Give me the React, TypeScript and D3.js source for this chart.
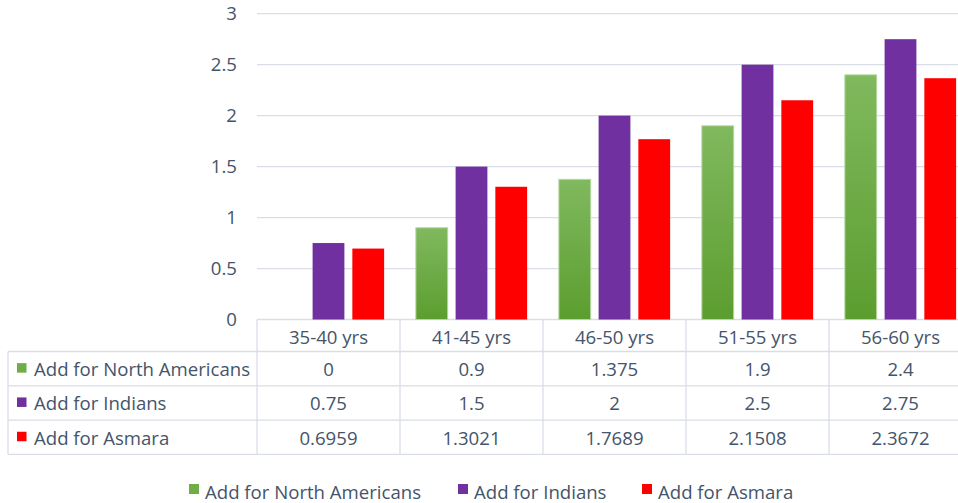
import React from 'react'
import * as d3 from 'd3'

const categories = ['35-40 yrs', '41-45 yrs', '46-50 yrs', '51-55 yrs', '56-60 yrs']
const seriesNames = ['Add for North Americans', 'Add for Indians', 'Add for Asmara']
const northAmericans = [0, 0.9, 1.375, 1.9, 2.4]
const indians = [0.75, 1.5, 2, 2.5, 2.75]
const asmara = [0.6959, 1.3021, 1.7689, 2.1508, 2.3672]
const yTicks = [0, 0.5, 1, 1.5, 2, 2.5, 3]

const W = 958
const H = 503
const TEXT = '#44546a'
const GRID = '#d9dde6'
const FONT = '"Open Sans", sans-serif'
const FS = 18.6

const series = [
  { name: seriesNames[0], values: northAmericans, fill: 'url(#greenGrad)', key: '#70ad47', stroke: '#b5d6a0' },
  { name: seriesNames[1], values: indians, fill: '#7030a0', key: '#7030a0', stroke: 'none' },
  { name: seriesNames[2], values: asmara, fill: '#ff0000', key: '#ff0000', stroke: 'none' },
]

export default function App() {
  const left = 257
  const step = 143
  const right = left + step * categories.length
  const x = d3.scaleBand<string>().domain(categories).range([left, right]).paddingInner(0.222).paddingOuter(0.111)
  const xi = d3
    .scaleBand<string>()
    .domain(seriesNames)
    .range([0, x.bandwidth()])
    .paddingInner(0.2)
    .paddingOuter(0)
  const y = d3.scaleLinear().domain([0, 3]).range([319.5, 13.7])

  const headerTop = y(0)
  const headerBottom = 351.5
  const rowH = 34.3
  const tableBottom = headerBottom + rowH * series.length

  return (
    <svg
      width={W}
      height={H}
      style={{ position: 'absolute', left: 0, top: 0, display: 'block', background: '#fff' }}
      fontFamily={FONT}
    >
      <defs>
        <linearGradient id="greenGrad" x1="0" y1="0" x2="0" y2="1">
          <stop offset="0%" stopColor="#80b95e" />
          <stop offset="100%" stopColor="#5c9d2f" />
        </linearGradient>
      </defs>

      {/* gridlines */}
      {yTicks.map((t) => (
        <g key={t}>
          <line x1={left} x2={W} y1={y(t)} y2={y(t)} stroke={GRID} strokeWidth={1.3} />
          <text x={237} y={y(t)} dy="0.35em" textAnchor="end" fontSize={FS} fill={TEXT}>
            {t}
          </text>
        </g>
      ))}

      {/* bars */}
      {categories.map((c, ci) => (
        <g key={c} transform={`translate(${x(c)},0)`}>
          {series.map((s) =>
            s.values[ci] > 0 ? (
              <rect
                key={s.name}
                x={xi(s.name)}
                y={y(s.values[ci])}
                width={xi.bandwidth()}
                height={y(0) - y(s.values[ci])}
                fill={s.fill}
                stroke={s.stroke}
                strokeWidth={1}
              />
            ) : null
          )}
        </g>
      ))}

      {/* data table */}
      {d3.range(series.length + 1).map((i) => {
        const yy = headerBottom + i * rowH
        return <line key={'h' + i} x1={8} x2={W} y1={yy} y2={yy} stroke={GRID} strokeWidth={1.3} />
      })}
      <line x1={8} x2={8} y1={headerBottom} y2={tableBottom} stroke={GRID} strokeWidth={1.3} />
      {categories.map((c) => (
        <line key={'v' + c} x1={x(c)! - x.step() * 0.111} x2={x(c)! - x.step() * 0.111} y1={headerTop} y2={tableBottom} stroke={GRID} strokeWidth={1.3} />
      ))}
      {categories.map((c) => (
        <text
          key={'c' + c}
          x={x(c)! + x.bandwidth() / 2}
          y={(headerTop + headerBottom) / 2 + 2}
          dy="0.35em"
          textAnchor="middle"
          fontSize={FS}
          fill={TEXT}
        >
          {c}
        </text>
      ))}
      {series.map((s, si) => {
        const cy = headerBottom + rowH * si + rowH / 2
        return (
          <g key={'r' + s.name}>
            <rect x={17} y={cy - 5.5} width={9.5} height={9.5} fill={s.key} />
            <text x={34} y={cy + 1} dy="0.35em" fontSize={FS} fill={TEXT}>
              {s.name}
            </text>
            {s.values.map((v, ci) => (
              <text
                key={ci}
                x={x(categories[ci])! + x.bandwidth() / 2}
                y={cy + 1}
                dy="0.35em"
                textAnchor="middle"
                fontSize={FS}
                fill={TEXT}
              >
                {v}
              </text>
            ))}
          </g>
        )
      })}

      {/* legend */}
      {[189, 458, 642].map((lx, i) => (
        <g key={'l' + i} transform={`translate(${lx},0)`}>
          <rect x={0} y={484} width={10} height={10} fill={series[i].key} />
          <text x={16} y={492} dy="0.35em" fontSize={FS} fill={TEXT}>
            {series[i].name}
          </text>
        </g>
      ))}
    </svg>
  )
}
